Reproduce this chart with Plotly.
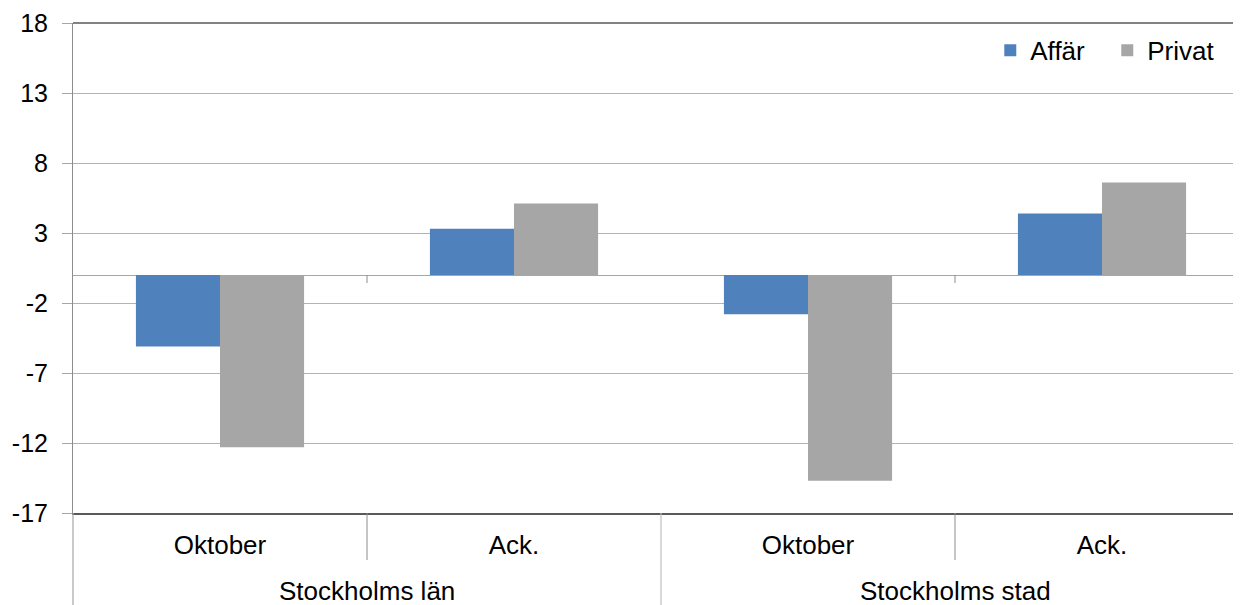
import plotly.graph_objects as go

groups = ["Stockholms län", "Stockholms stad"]
periods = ["Oktober", "Ack.", "Oktober", "Ack."]
affar = [-5.1, 3.3, -2.8, 4.4]
privat = [-12.3, 5.1, -14.7, 6.6]
y_ticks = [-17, -12, -7, -2, 3, 8, 13, 18]

FONT = "Liberation Sans, Arial, sans-serif"
pos = list(range(len(periods)))

fig = go.Figure()
fig.add_trace(go.Bar(x=pos, y=affar, name="Affär",
                     marker=dict(color="#4F81BD", line=dict(width=0))))
fig.add_trace(go.Bar(x=pos, y=privat, name="Privat",
                     marker=dict(color="#A6A6A6", line=dict(width=0))))

PLOT_H = 490
shapes = []
# top border
shapes.append(dict(type="line", xref="paper", yref="paper", x0=0, x1=1, y0=1, y1=1,
                   line=dict(color="#595959", width=1.5)))
n_per_group = len(periods) // len(groups)
for i in range(len(periods) + 1):
    b = i - 0.5
    if i % n_per_group == 0:
        # group dividers through both label rows
        if i == 0 or i == len(periods):
            continue
        shapes.append(dict(type="line", xref="x", yref="paper", x0=b, x1=b,
                           y0=0, y1=-0.2, line=dict(color="#BFBFBF", width=1.2)))
    else:
        shapes.append(dict(type="line", xref="x", yref="y", x0=b, x1=b, y0=0, y1=-8,
                           ysizemode="pixel", yanchor=0, line=dict(color="#8C8C8C", width=1)))
        shapes.append(dict(type="line", xref="x", yref="paper", x0=b, x1=b,
                           y0=0, y1=-47 / PLOT_H, line=dict(color="#8C8C8C", width=1)))
# left axis extension through label area
shapes.append(dict(type="line", xref="paper", yref="paper", x0=0, x1=0, y0=0, y1=-0.2,
                   line=dict(color="#A6A6A6", width=1.2)))

annotations = []
for g, name in enumerate(groups):
    center = g * n_per_group + (n_per_group - 1) / 2
    annotations.append(dict(x=center, xref="x", y=-78 / PLOT_H, yref="paper",
                            text=name, showarrow=False, xanchor="center", yanchor="middle",
                            font=dict(size=26, family=FONT, color="black")))

fig.update_layout(
    width=1241, height=605,
    margin=dict(l=65, r=0, t=15, b=100),
    plot_bgcolor="white", paper_bgcolor="white",
    barmode="group", bargap=0.428, bargroupgap=0,
    font=dict(family=FONT, size=25, color="black"),
    showlegend=True,
    legend=dict(orientation="h", x=0.78, y=0.992, xanchor="left", yanchor="top",
                font=dict(size=26), bgcolor="rgba(0,0,0,0)", itemwidth=30,
                entrywidth=72, entrywidthmode="pixels", traceorder="normal"),
    shapes=shapes,
    annotations=annotations,
)
fig.update_xaxes(range=[-0.5, len(periods) - 0.5], tickvals=pos, ticktext=periods,
                 showline=True, linecolor="#595959", linewidth=1.5,
                 showgrid=False, zeroline=False, ticks="", ticklabelstandoff=8,
                 tickfont=dict(size=26))
fig.update_yaxes(range=[-17, 18], tickvals=y_ticks, ticktext=[str(v) for v in y_ticks],
                 showgrid=True, gridcolor="#B3B3B3", gridwidth=1,
                 zeroline=True, zerolinecolor="#A6A6A6", zerolinewidth=1,
                 showline=True, linecolor="#8C8C8C", linewidth=1,
                 ticks="outside", ticklen=10, tickcolor="#A6A6A6",
                 ticklabelstandoff=9, tickfont=dict(size=25))

fig.write_html("out.html")
